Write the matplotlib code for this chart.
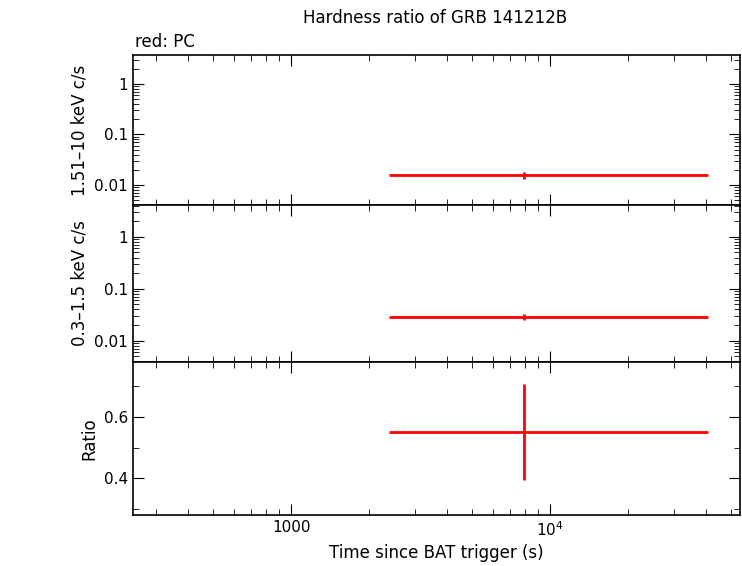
import matplotlib
matplotlib.use("Agg")
import matplotlib.pyplot as plt
from matplotlib.ticker import FixedLocator, NullFormatter, FuncFormatter

t = [7900]
t_lo = [2390]
t_hi = [40700]
hard = [0.0155]; hard_err = [0.0025]
soft = [0.029]; soft_err = [0.0035]
ratio = [0.551]; ratio_lo = [0.393]; ratio_hi = [0.708]

W, H = 742, 566
fig = plt.figure(figsize=(W/100, H/100), dpi=100)
L, R = 133/W, 740/W
def ax_at(top, bot):
    return fig.add_axes([L, 1-bot/H, R-L, (bot-top)/H])
a1 = ax_at(55, 205); a2 = ax_at(205, 362); a3 = ax_at(362, 515)
xerr = [[t[0]-t_lo[0]], [t_hi[0]-t[0]]]
a1.errorbar(t, hard, xerr=xerr, yerr=hard_err, color='red', elinewidth=2, fmt='none')
a2.errorbar(t, soft, xerr=xerr, yerr=soft_err, color='red', elinewidth=2, fmt='none')
a3.errorbar(t, ratio, xerr=xerr, yerr=[[ratio[0]-ratio_lo[0]], [ratio_hi[0]-ratio[0]]], color='red', elinewidth=2, fmt='none')
for a in (a1, a2, a3):
    a.set_xscale('log'); a.set_xlim(245, 54000)
    a.tick_params(which='both', direction='in', top=True, right=True, labelsize=11)
    a.tick_params(which='major', length=8); a.tick_params(which='minor', length=4)
    a.xaxis.set_major_locator(FixedLocator([1000, 10000]))
    for s in a.spines.values(): s.set_linewidth(1.2)
for a in (a1, a2):
    a.set_yscale('log'); a.set_xticklabels([])
    a.yaxis.set_major_locator(FixedLocator([0.01, 0.1, 1]))
    a.yaxis.set_major_formatter(FuncFormatter(lambda v, p: {0.01: '0.01', 0.1: '0.1', 1: '1'}.get(round(v, 2), '')))
    a.yaxis.set_minor_formatter(NullFormatter())
a1.set_ylim(0.004, 3.75); a2.set_ylim(0.0039, 4.1)
a3.set_ylim(0.279, 0.78)
a3.yaxis.set_major_locator(FixedLocator([0.4, 0.6]))
a3.yaxis.set_minor_locator(FixedLocator([0.3, 0.5, 0.7]))
a3.xaxis.set_major_formatter(FuncFormatter(lambda v, p: '1000' if v < 5000 else r'$10^4$'))
a3.xaxis.set_minor_formatter(NullFormatter())
a1.set_ylabel('1.51–10 keV c/s', fontsize=12)
a2.set_ylabel('0.3–1.5 keV c/s', fontsize=12)
a3.set_ylabel('Ratio', fontsize=12)
a3.set_xlabel('Time since BAT trigger (s)', fontsize=12)
fig.text(435/W, 1-18/H, 'Hardness ratio of GRB 141212B', ha='center', va='center', fontsize=12)
fig.text(135/W, 1-42/H, 'red: PC', ha='left', va='center', fontsize=12)
fig.savefig('out.png', dpi=100)
